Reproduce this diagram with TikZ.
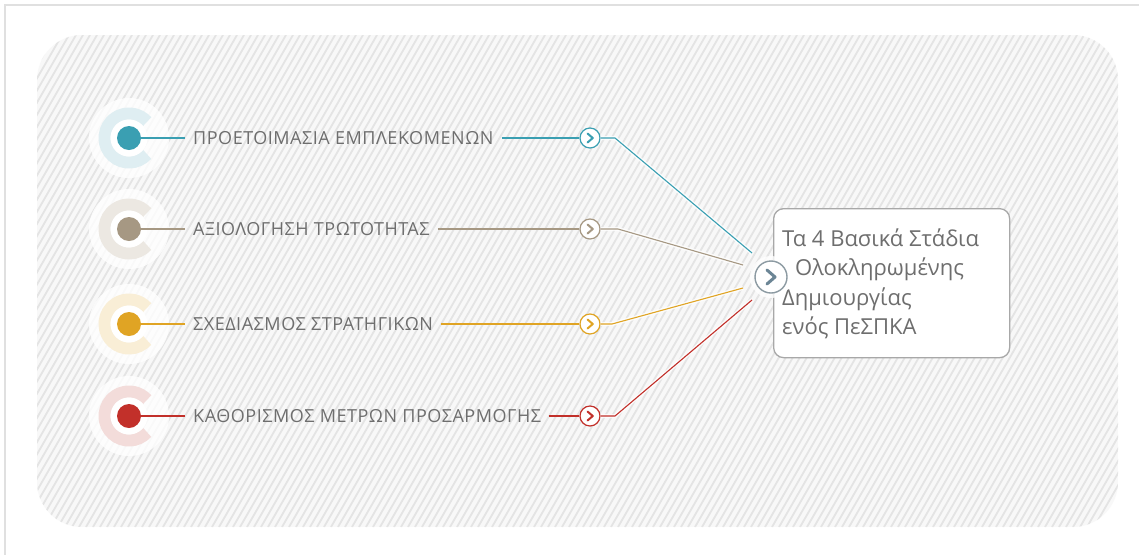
\documentclass[tikz,border=0pt]{standalone}
\usepackage{fontspec}
\setmainfont{Open Sans}
\newfontfamily\labfont[LetterSpace=3]{Open Sans}
\usetikzlibrary{calc}
\definecolor{cA}{HTML}{3A9FB2}
\definecolor{cB}{HTML}{A69883}
\definecolor{cC}{HTML}{E0A424}
\definecolor{cD}{HTML}{C2302A}
\definecolor{rA}{HTML}{DFEEF2}
\definecolor{rB}{HTML}{ECE8E2}
\definecolor{rC}{HTML}{F9EED6}
\definecolor{rD}{HTML}{F3DCDA}
\definecolor{txtgray}{HTML}{6E6E6E}
\definecolor{hatchbg}{HTML}{F8F8F8}
\definecolor{hatchln}{HTML}{E4E4E4}
\definecolor{boxline}{HTML}{A8A8A8}
\definecolor{chevgray}{HTML}{6B8595}
\definecolor{circgray}{HTML}{8C9AA2}
\tikzset{
  dotnode/.style={circle, fill=#1, minimum size=24pt, inner sep=0pt},
  labeltext/.style={anchor=west, inner xsep=8pt, inner ysep=2pt, text=txtgray, font=\labfont\fontsize{18}{20}\selectfont},
  chevnode/.style={circle, draw=#1, fill=white, line width=1.2pt, minimum size=20pt, inner sep=0pt},
  conn/.style={draw=#1, line width=1.1pt},
  glowline/.style={draw=white, line width=4pt, opacity=0.8},
}
\begin{document}
\begin{tikzpicture}[x=1pt,y=-1pt]
\useasboundingbox (0,0) rectangle (1139,555);
\fill[white] (0,0) rectangle (1139,555);
\draw[color=black!12, line width=1.5pt] (5,555) -- (5,5) -- (1139,5);
% hatched panel
\begin{scope}
\clip[rounded corners=45pt] (37,35) rectangle (1118,527);
\fill[hatchbg] (37,35) rectangle (1118,527);
\foreach \k in {-250,-243,...,1120} {
  \draw[hatchln, line width=1.8pt] (\k,527) -- ({\k+284},35);
}
\end{scope}
% rows
\foreach \y/\c/\r/\n/\t in {
  138/cA/rA/1/ΠΡΟΕΤΟΙΜΑΣΙΑ ΕΜΠΛΕΚΟΜΕΝΩΝ,
  229/cB/rB/2/ΑΞΙΟΛΟΓΗΣΗ ΤΡΩΤΟΤΗΤΑΣ,
  324/cC/rC/3/ΣΧΕΔΙΑΣΜΟΣ ΣΤΡΑΤΗΓΙΚΩΝ,
  416/cD/rD/4/ΚΑΘΟΡΙΣΜΟΣ ΜΕΤΡΩΝ ΠΡΟΣΑΡΜΟΓΗΣ} {
  \fill[white, opacity=0.8] (129,\y) circle (40);
  \draw[\r, line width=12pt] ($(129,\y)+(42:24.5)$) arc (42:318:24.5);
  \fill[white] (129,\y) circle (18.5);
  \node[dotnode=\c] (dot\n) at (129,\y) {};
  \node[labeltext] (lab\n) at (185,\y) {\t};
  \node[chevnode=\c] (chev\n) at (590,\y) {};
  \draw[\c, line width=2pt, line cap=round, line join=round]
    ($(chev\n)+(-2.5,-4.5)$) -- ($(chev\n)+(2.8,0)$) -- ($(chev\n)+(-2.5,4.5)$);
  \draw[conn=\c] (dot\n.east) -- (lab\n.west);
  \draw[conn=\c] (lab\n.east) -- (chev\n.west);
}
% bend and end coordinates
\coordinate (b1) at (615,138); \coordinate (e1) at (752,253);
\coordinate (b2) at (618,229); \coordinate (e2) at (743,265);
\coordinate (b3) at (612,324); \coordinate (e3) at (743,288);
\coordinate (b4) at (615,416); \coordinate (e4) at (752,300);
\foreach \n/\c in {1/cA,2/cB,3/cC,4/cD} {
  \path[glowline] (chev\n.east) -- (b\n) -- (e\n);
  \draw[conn=\c, line join=round] (chev\n.east) -- (b\n) -- (e\n);
}
% summary box
\node[draw=boxline, fill=white, line width=1.3pt, rounded corners=10pt,
      minimum width=236pt, minimum height=149pt, anchor=north west] (box) at (773,208) {};
\node[anchor=west, text=txtgray, align=left, inner sep=0pt,
      font=\fontsize{22}{29.5}\selectfont] (boxtext) at (782,284)
  {Τα 4 Βασικά Στάδια\\\hspace*{13pt}Ολοκληρωμένης\\Δημιουργίας\\ενός ΠεΣΠΚΑ};
\fill[white, opacity=0.8] (771,277) circle (21);
\node[circle, draw=circgray, fill=white, line width=1.4pt, minimum size=32pt, inner sep=0pt] (hub) at (771,277) {};
\draw[chevgray, line width=3pt, line cap=round, line join=round]
  ($(hub)+(-4,-7)$) -- ($(hub)+(4,0)$) -- ($(hub)+(-4,7)$);
\end{tikzpicture}
\end{document}
